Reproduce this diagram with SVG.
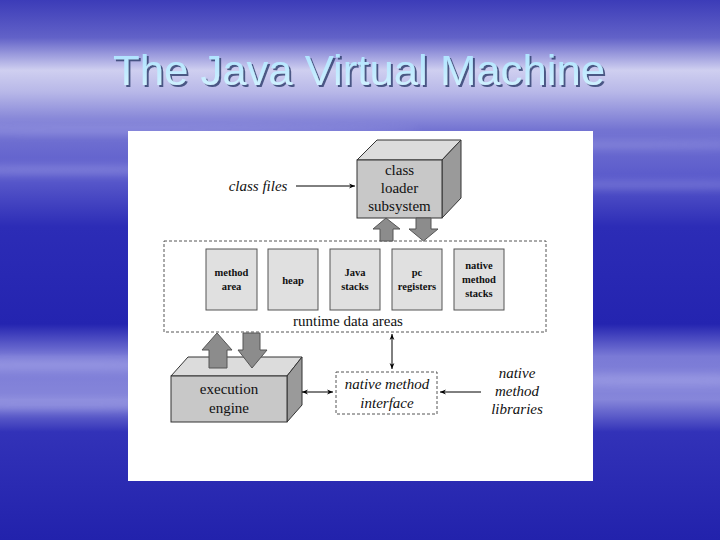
<svg xmlns="http://www.w3.org/2000/svg" width="720" height="540" viewBox="0 0 720 540">
<defs>
<linearGradient id="bg" x1="0" y1="0" x2="0" y2="1">
<stop offset="0" stop-color="#3c3cb8"/>
<stop offset="0.07" stop-color="#6262c8"/>
<stop offset="0.13" stop-color="#cfcff0"/>
<stop offset="0.17" stop-color="#b8b8e8"/>
<stop offset="0.24" stop-color="#7474d2"/>
<stop offset="0.33" stop-color="#5a5acb"/>
<stop offset="0.42" stop-color="#2c2cb6"/>
<stop offset="0.6" stop-color="#2424b0"/>
<stop offset="0.66" stop-color="#7a7ad6"/>
<stop offset="0.74" stop-color="#8686da"/>
<stop offset="0.8" stop-color="#3232b8"/>
<stop offset="1" stop-color="#2222ac"/>
</linearGradient>
<linearGradient id="title" x1="0" y1="0" x2="0" y2="1">
<stop offset="0" stop-color="#a8e0ff"/>
<stop offset="1" stop-color="#d8f4ff"/>
</linearGradient>
<filter id="soft" x="-20%" y="-200%" width="140%" height="500%">
<feGaussianBlur stdDeviation="4"/>
</filter>
<filter id="shadow" x="-5%" y="-20%" width="110%" height="140%">
<feDropShadow dx="2" dy="2" stdDeviation="0.5" flood-color="#2a3a6a" flood-opacity="0.8"/>
</filter>
<marker id="ah" viewBox="0 0 10 10" refX="10" refY="5" markerWidth="7" markerHeight="6" orient="auto-start-reverse" markerUnits="userSpaceOnUse">
<path d="M0,1 L10,5 L0,9 L3,5 Z" fill="#000"/>
</marker>
</defs>
<style>
.lbl{fill:#111;text-anchor:middle}
.big{font-size:15px}
.it{font-style:italic;font-size:15px}
.small{font-size:10.5px;font-weight:bold}
.inner{fill:#e0e0e0;stroke:#555;stroke-width:1}
.front{fill:#c8c8c8;stroke:#333;stroke-width:1}
.topf{fill:#dcdcdc;stroke:#333;stroke-width:1}
.side{fill:#9a9a9a;stroke:#333;stroke-width:1}
.fat{fill:#8c8c8c;stroke:#555;stroke-width:1}
.dash{fill:#fff;stroke:#555;stroke-width:1;stroke-dasharray:3,2}
.conn{stroke:#000;stroke-width:1;fill:none}
</style>
<rect width="720" height="540" fill="url(#bg)"/>
<g opacity="0.4" fill="#b8b8f0" filter="url(#soft)">
<ellipse cx="120" cy="130" rx="300" ry="4"/>
<ellipse cx="600" cy="145" rx="260" ry="3"/>
<ellipse cx="60" cy="170" rx="200" ry="4"/>
<ellipse cx="650" cy="185" rx="220" ry="3"/>
<ellipse cx="60" cy="365" rx="220" ry="6"/>
<ellipse cx="660" cy="380" rx="200" ry="6"/>
<ellipse cx="60" cy="405" rx="200" ry="5"/>
</g>
<text x="359" y="85" font-family="Liberation Sans, Arial, sans-serif" font-size="42" fill="url(#title)" text-anchor="middle" textLength="492" lengthAdjust="spacingAndGlyphs" filter="url(#shadow)">The Java Virtual Machine</text>
<rect x="128" y="131" width="465" height="350" fill="#fff"/>
<g font-family="Liberation Serif, Times New Roman, serif">
<g id="runtime-data-areas">
<rect class="dash" x="164" y="241" width="382" height="91"/>
<text class="lbl big" x="348" y="326">runtime data areas</text>
</g>
<g id="method-area">
<rect class="inner" x="206" y="249" width="51" height="61"/>
<text class="lbl small" x="231.5" y="276">method</text>
<text class="lbl small" x="231.5" y="290">area</text>
</g>
<g id="heap">
<rect class="inner" x="268" y="249" width="50" height="61"/>
<text class="lbl small" x="293" y="284">heap</text>
</g>
<g id="java-stacks">
<rect class="inner" x="330" y="249" width="50" height="61"/>
<text class="lbl small" x="355" y="276">Java</text>
<text class="lbl small" x="355" y="290">stacks</text>
</g>
<g id="pc-registers">
<rect class="inner" x="392" y="249" width="50" height="61"/>
<text class="lbl small" x="417" y="276">pc</text>
<text class="lbl small" x="417" y="290">registers</text>
</g>
<g id="native-method-stacks">
<rect class="inner" x="454" y="249" width="50" height="61"/>
<text class="lbl small" x="479" y="269">native</text>
<text class="lbl small" x="479" y="283">method</text>
<text class="lbl small" x="479" y="297">stacks</text>
</g>
<g id="class-loader">
<polygon class="topf" points="357,160 377,140 461,140 442,160"/>
<polygon class="side" points="442,160 461,140 461,198 442,218"/>
<rect class="front" x="357" y="160" width="85" height="58"/>
<text class="lbl big" x="399.5" y="175">class</text>
<text class="lbl big" x="399.5" y="193">loader</text>
<text class="lbl big" x="399.5" y="211">subsystem</text>
</g>
<g id="execution-engine">
<polygon class="topf" points="171,376 188,357 302,357 287,376"/>
<polygon class="side" points="287,376 302,357 302,405 287,422"/>
<rect class="front" x="171" y="376" width="116" height="46"/>
<text class="lbl big" x="229" y="394">execution</text>
<text class="lbl big" x="229" y="413">engine</text>
</g>
<g id="native-method-interface">
<rect class="dash" x="336" y="372" width="101" height="42"/>
<text class="lbl it" x="387" y="389">native method</text>
<text class="lbl it" x="387" y="408">interface</text>
</g>
<g id="class-files">
<text class="lbl it" x="258" y="191">class files</text>
</g>
<g id="native-method-libraries">
<text class="lbl it" x="517" y="378">native</text>
<text class="lbl it" x="517" y="396">method</text>
<text class="lbl it" x="517" y="414">libraries</text>
</g>
</g>
<g id="connectors">
<polygon class="fat" points="386,218 400,229 393,229 393,241 380,241 380,229 373,229"/>
<polygon class="fat" points="416,218 431,218 431,229 438,229 423.5,241 409,229 416,229"/>
<polygon class="fat" points="217,333 232,350 227,350 227,368 209,368 209,350 202,350"/>
<polygon class="fat" points="243,333 260,333 260,350 267,350 252,368 238,350 243,350"/>
<line class="conn" x1="296" y1="186" x2="355" y2="186" marker-end="url(#ah)"/>
<line class="conn" x1="392" y1="334" x2="392" y2="369" marker-start="url(#ah)" marker-end="url(#ah)"/>
<line class="conn" x1="302" y1="392" x2="333" y2="392" marker-start="url(#ah)" marker-end="url(#ah)"/>
<line class="conn" x1="481" y1="392" x2="440" y2="392" marker-end="url(#ah)"/>
</g>
</svg>
